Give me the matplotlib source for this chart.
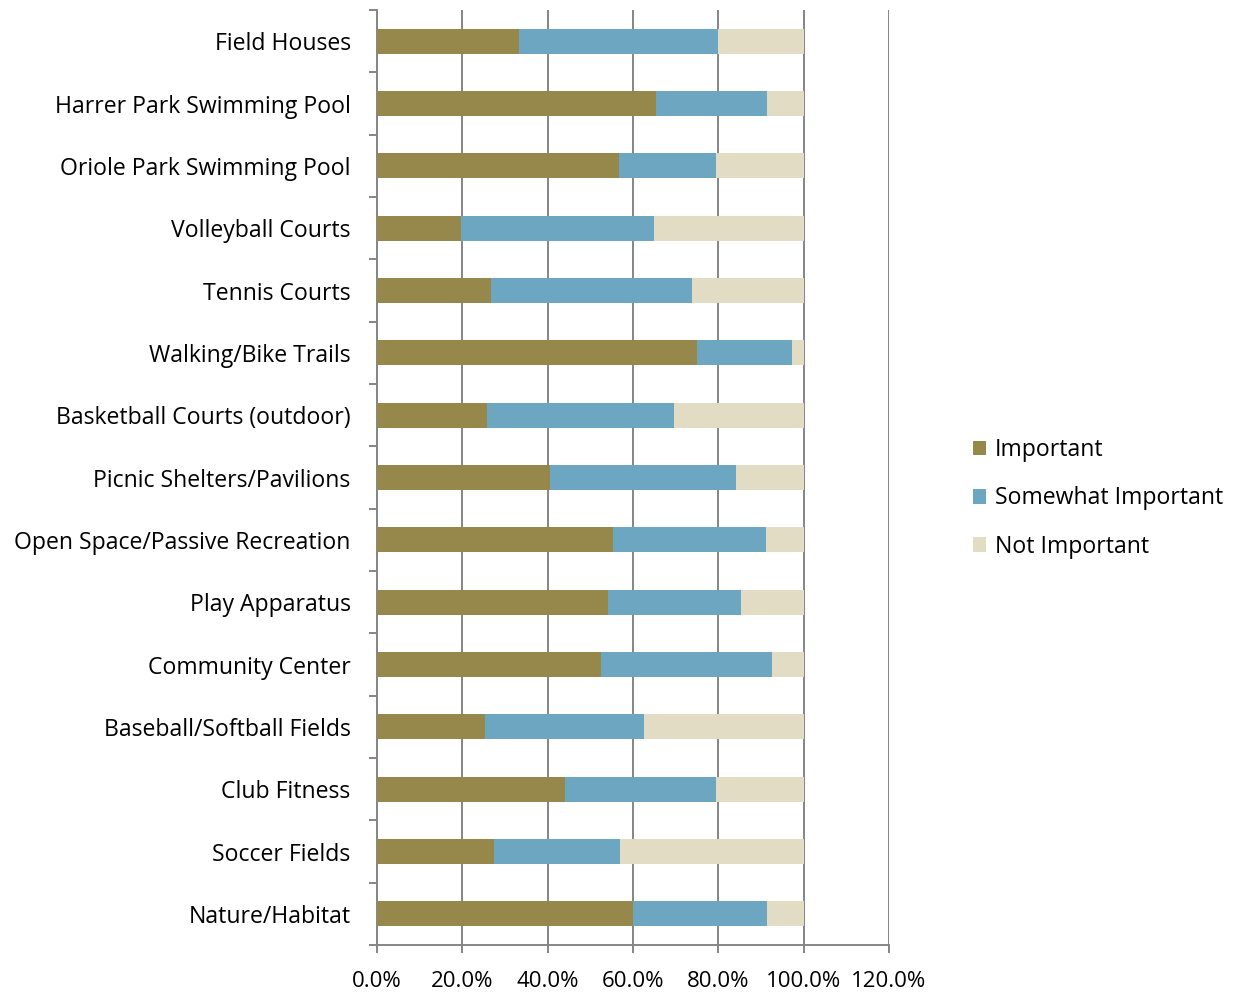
import matplotlib.pyplot as plt
import numpy as np
from matplotlib.ticker import FuncFormatter

# facilities, top to bottom
categorias = ["Field Houses", "Harrer Park Swimming Pool", "Oriole Park Swimming Pool",
              "Volleyball Courts", "Tennis Courts", "Walking/Bike Trails",
              "Basketball Courts (outdoor)", "Picnic Shelters/Pavilions",
              "Open Space/Passive Recreation", "Play Apparatus", "Community Center",
              "Baseball/Softball Fields", "Club Fitness", "Soccer Fields", "Nature/Habitat"]

important = [33.3, 65.4, 56.7, 19.7, 26.7, 75.0, 25.8, 40.5, 55.3, 54.1, 52.5, 25.3, 44.1, 27.4, 60.0]
somewhat = [46.6, 26.0, 22.7, 45.2, 47.1, 22.3, 43.8, 43.6, 35.9, 31.2, 40.1, 37.3, 35.3, 29.5, 31.4]
not_important = [20.1, 8.6, 20.6, 35.1, 26.2, 2.7, 30.4, 15.9, 8.8, 14.7, 7.4, 37.4, 20.6, 43.1, 8.6]

plt.rcParams['font.family'] = ['Open Sans', 'DejaVu Sans']

fig = plt.figure(figsize=(12.37, 9.94), dpi=100)
ax = fig.add_axes([0.3048, 0.0493, 0.4139, 0.9406])

y = np.arange(len(categorias))
imp = np.array(important)
som = np.array(somewhat)
no = np.array(not_important)

ax.barh(y, imp, height=0.4, color="#96874A", label="Important", zorder=3)
ax.barh(y, som, left=imp, height=0.4, color="#6CA6C1", label="Somewhat Important", zorder=3)
ax.barh(y, no, left=imp + som, height=0.4, color="#E3DCC4", label="Not Important", zorder=3)

ax.set_xlim(0, 120)
ax.set_ylim(len(categorias) - 0.5, -0.5)
ax.set_xticks(np.arange(0, 121, 20))
ax.xaxis.set_major_formatter(FuncFormatter(lambda v, p: "%.1f%%" % v))

# category labels without ticks, ticks at boundaries
ax.set_yticks(y)
ax.set_yticklabels(categorias, fontsize=16.6)
ax.tick_params(axis='y', length=0, pad=19)
ax.set_yticks(np.arange(-0.5, len(categorias), 1), minor=True)
ax.tick_params(axis='y', which='minor', length=6, width=1.4, color="#858585")
ax.tick_params(axis='x', labelsize=16, length=6, width=1.4, color="#858585", pad=13)

ax.grid(axis='x', color="#858585", linewidth=1.4, zorder=0)
for s in ['top', 'right']:
    ax.spines[s].set_visible(False)
for s in ['left', 'bottom']:
    ax.spines[s].set_color("#858585")
    ax.spines[s].set_linewidth(1.4)

fig.legend(loc="center left", bbox_to_anchor=(0.7695, 0.4985), frameon=False, fontsize=16.6,
           handlelength=0.6, handleheight=0.6, handletextpad=0.35, labelspacing=1.05)

fig.savefig("out.png", dpi=100)
